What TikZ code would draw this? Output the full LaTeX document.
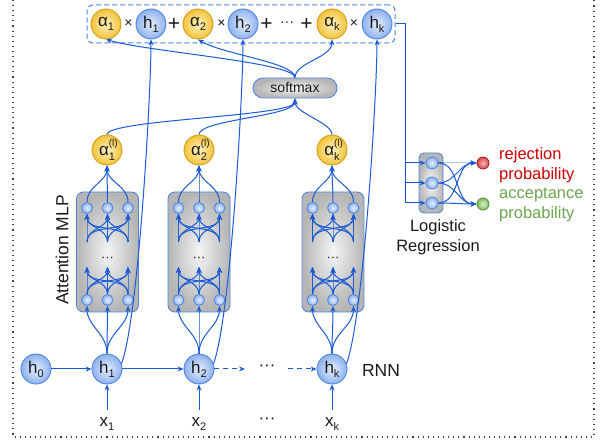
\documentclass[tikz,border=0pt]{standalone}
\usepackage{fontspec}
\setmainfont{Liberation Sans}
\usetikzlibrary{arrows.meta}
\definecolor{lb}{HTML}{1A5AD4}
\definecolor{bbd}{HTML}{4F86DB}
\definecolor{bin}{HTML}{E6EFFD}
\definecolor{bout}{HTML}{8DB1EE}
\definecolor{gbd}{HTML}{CFA01E}
\definecolor{gin}{HTML}{FFF3C0}
\definecolor{gout}{HTML}{F2C23A}
\definecolor{rbd}{HTML}{A31818}
\definecolor{rin}{HTML}{F7B0B0}
\definecolor{rout}{HTML}{D44A4A}
\definecolor{gnbd}{HTML}{4E8C2E}
\definecolor{gnin}{HTML}{D6EEC4}
\definecolor{gnout}{HTML}{86BC66}
\definecolor{redtxt}{HTML}{D00000}
\definecolor{greentxt}{HTML}{6AA84F}
\definecolor{txt}{HTML}{1A1A1A}
\newcommand\lsub[1]{\raisebox{-0.45ex}{\fontsize{11}{11}\selectfont #1}}
\newcommand\alsup[1]{α\rlap{\raisebox{1.0ex}{\fontsize{10}{10}\selectfont (l)}}\raisebox{-0.5ex}{\fontsize{11}{11}\selectfont #1}}
\tikzset{
  ball/.style={circle, minimum size=30pt, inner sep=0pt, line width=0.9pt, font=\fontsize{17}{17}\selectfont, text=txt},
  bball/.style={ball, draw=bbd, inner color=bin, outer color=bout},
  gball/.style={ball, draw=gbd, inner color=gin, outer color=gout},
  mn/.style={circle, minimum size=11pt, inner sep=0pt, line width=0.8pt, draw=bbd, inner color=bin, outer color=bout},
  graybox/.style={rounded corners=7pt, draw=bbd, line width=0.9pt, inner color=gray!8, outer color=gray!58},
  conn/.style={draw=lb, line width=1pt},
  arr/.style={conn, -{Stealth[length=6pt,width=5pt]}},
  sym/.style={font=\fontsize{14}{14}\selectfont, text=txt, inner sep=0pt},
  lbl/.style={font=\fontsize{16.5}{19.5}\selectfont, text=txt, inner sep=0pt},
}
\begin{document}
\begin{tikzpicture}[x=1pt,y=1pt]
\useasboundingbox (0,0) rectangle (602,441);
% dotted frame
\draw[black!75, line width=1.1pt, dash pattern=on 1.1pt off 4pt] (13,441) -- (13,4) -- (594,4) -- (594,441);

% top sum box
\node[draw=bbd, line width=1pt, dash pattern=on 5pt off 3pt, rounded corners=6pt, minimum width=308pt, minimum height=38pt] (tbox) at (241,417) {};
\node[gball] (ta1) at (106,417) {α\lsub{1}};
\node[sym] (tx1) at (128.5,417) {×};
\node[bball] (th1) at (151,417) {h\lsub{1}};
\node[sym, font=\fontsize{21}{21}\selectfont] (tp1) at (174,417) {+};
\node[gball] (ta2) at (198,417) {α\lsub{2}};
\node[sym] (tx2) at (221.5,417) {×};
\node[bball] (th2) at (243,417) {h\lsub{2}};
\node[sym, font=\fontsize{21}{21}\selectfont] (tp2) at (266.5,417) {+};
\node[sym] (td) at (287,417) {···};
\node[sym, font=\fontsize{21}{21}\selectfont] (tp3) at (306.5,417) {+};
\node[gball] (tak) at (332,417) {α\lsub{k}};
\node[sym] (tx3) at (354,417) {×};
\node[bball] (thk) at (377,417) {h\lsub{k}};

% softmax
\node[graybox, rounded corners=10pt, minimum width=84pt, minimum height=20pt, font=\fontsize{14}{14}\selectfont, text=txt, inner sep=0pt] (sm) at (295,353) {softmax};

% attention outputs
\node[gball] (al1) at (107,291) {\alsup{1}};
\node[gball] (al2) at (199,291) {\alsup{2}};
\node[gball] (al3) at (332,291) {\alsup{k}};

% MLP boxes
\foreach \i/\cx in {1/107.5, 2/199, 3/333}{
  \node[graybox, minimum width=62pt, minimum height=120pt] (box\i) at (\cx,189) {};
  \node[sym, font=\fontsize{13}{13}\selectfont] (dots\i) at (\cx,182) {···};
  \foreach \j/\dx in {1/-20.5, 2/0, 3/20.5}{
    \node[mn] (mt\i\j) at ({\cx+(\dx)},233) {};
    \node[mn] (mb\i\j) at ({\cx+(\dx)},141) {};
    \coordinate (u\i\j) at ({\cx+(\dx)},199);
    \coordinate (l\i\j) at ({\cx+(\dx)},174);
  }
}

% RNN
\node[bball] (h0) at (36,72) {h\lsub{0}};
\node[bball] (h1) at (107,72) {h\lsub{1}};
\node[bball] (h2) at (199,72) {h\lsub{2}};
\node[bball] (hk) at (332,72) {h\lsub{k}};
\node[lbl, font=\fontsize{17}{17}\selectfont] (hdots) at (267,73) {···};
\coordinate (dA) at (245,72);
\coordinate (dB) at (288,72);
\node[lbl, font=\fontsize{17.5}{17.5}\selectfont] (rnn) at (381,71) {RNN};

\node[lbl, font=\fontsize{17}{17}\selectfont] (x1) at (107,17) {x\lsub{1}};
\node[lbl, font=\fontsize{17}{17}\selectfont] (x2) at (199,17) {x\lsub{2}};
\node[lbl, font=\fontsize{17}{17}\selectfont] (xdots) at (267,20) {···};
\node[lbl, font=\fontsize{17}{17}\selectfont] (xk) at (332,17) {x\lsub{k}};

\node[lbl, rotate=90, font=\fontsize{17.5}{17.5}\selectfont] (attl) at (62,191) {Attention MLP};

% logistic regression
\node[graybox, rounded corners=5pt, minimum width=24pt, minimum height=60pt] (lrbox) at (431,258) {};
\node[mn, minimum size=12pt] (lr1) at (432,278) {};
\node[mn, minimum size=12pt] (lr2) at (432,258) {};
\node[mn, minimum size=12pt] (lr3) at (432,238) {};
\node[circle, minimum size=12pt, inner sep=0pt, line width=0.8pt, draw=rbd, inner color=rin, outer color=rout] (outr) at (483,278) {};
\node[circle, minimum size=12pt, inner sep=0pt, line width=0.8pt, draw=gnbd, inner color=gnin, outer color=gnout] (outg) at (483,237) {};
\node[lbl, anchor=west, align=left, text=redtxt] (rej) at (499,276) {rejection\\probability};
\node[lbl, anchor=west, align=left, text=greentxt] (acc) at (499,236) {acceptance\\probability};
\node[lbl, align=center] (lrl) at (438,204) {Logistic\\Regression};
\coordinate (c1) at (405,278);
\coordinate (c2) at (405,258);
\coordinate (c3) at (405,238);

% ---------- connectors ----------
% RNN chain
\draw[arr] (h0) -- (h1);
\draw[arr] (h1) -- (h2);
\draw[arr, dash pattern=on 5pt off 4pt] (h2.east) -- (dA);
\draw[arr, dash pattern=on 5pt off 4pt] (dB) -- (hk.west);
\draw[arr, shorten <=7pt] (x1.north) -- (h1.south);
\draw[arr, shorten <=7pt] (x2.north) -- (h2.south);
\draw[arr, shorten <=7pt] (xk.north) -- (hk.south);

% h -> MLP bottom
\foreach \i/\h in {1/h1, 2/h2, 3/hk}{
  \foreach \k in {1,2,3}{
    \draw[arr] (\h.north) to[out=90,in=-90] (mb\i\k.south);
    \draw[arr] (mt\i\k.north) to[out=90,in=-90] (al\i.south);
    \foreach \j in {1,2,3}{
      \draw[arr] (mb\i\j.north) to[out=90,in=-90] (l\i\k);
      \draw[arr] (u\i\j) to[out=90,in=-90] (mt\i\k.south);
    }
  }
}

% h -> top sum
\draw[arr] (h1.20) to[out=70,in=-90,looseness=0.4] (th1.south);
\draw[arr] (h2.20) to[out=70,in=-90,looseness=0.4] (th2.south);
\draw[arr] (hk.20) to[out=70,in=-90,looseness=0.4] (thk.south);

% attention -> softmax
\draw[arr] (al1.north) .. controls +(0,15) and +(0,-18) .. (sm.south);
\draw[arr] (al2.north) .. controls +(0,15) and +(0,-18) .. (sm.south);
\draw[arr] (al3.north) .. controls +(0,12) and +(0,-15) .. (sm.south);
% softmax -> alphas
\draw[arr] (sm.north) .. controls +(0,15) and +(40,-12) .. (ta1.south);
\draw[arr] (sm.north) .. controls +(0,15) and +(25,-15) .. (ta2.south);
\draw[arr] (sm.north) .. controls +(0,15) and +(0,-18) .. (tak.south);

% to logistic regression
\draw[conn] (tbox.east) -| (c3);
\draw[arr] (c1) -- (lr1.west);
\draw[arr] (c2) -- (lr2.west);
\draw[arr] (c3) -- (lr3.west);
\foreach \j in {1,2,3}{
  \draw[arr] (lr\j.east) to[out=0,in=180] (outr.west);
  \draw[arr] (lr\j.east) to[out=0,in=180] (outg.west);
}
\end{tikzpicture}
\end{document}
